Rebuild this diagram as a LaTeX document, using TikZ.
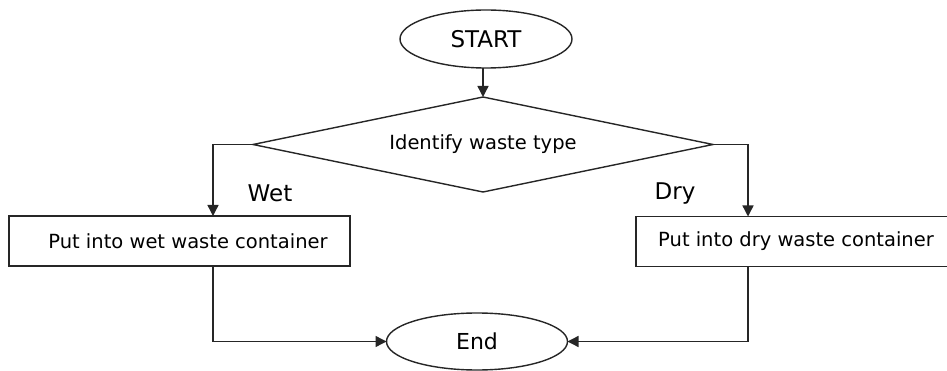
\documentclass[tikz,border=0pt]{standalone}
\usepackage{fontspec}
\setmainfont{DejaVu Sans}
\usetikzlibrary{shapes.geometric,arrows.meta}
\tikzset{
  ln/.style={draw=black!85, line width=1.4pt},
  arr/.style={ln, -{Triangle[length=11pt,width=11pt]}},
  term/.style={ellipse, ln, inner sep=0pt, outer sep=0pt},
  procbox/.style={rectangle, ln, line width=1.7pt, inner sep=0pt, outer sep=0pt, minimum height=50pt, font=\fontsize{19.5}{22}\selectfont},
  decision/.style={diamond, ln, inner sep=0pt, outer sep=0pt, aspect=4.8, font=\fontsize{19.5}{22}\selectfont},
  lbl/.style={font=\fontsize{23}{26}\selectfont, inner sep=0pt}
}
\begin{document}
\begin{tikzpicture}[x=1pt,y=-1pt]
\useasboundingbox (0,0) rectangle (947,371);
\node[term, minimum width=172pt, minimum height=58pt, font=\fontsize{23}{26}\selectfont] (start) at (486,39) {START};
\node[decision, minimum width=460pt, minimum height=95pt] (dec) at (483,144.5) {Identify waste type};
\node[procbox, minimum width=341pt] (wetbox) at (179.5,241) {\hspace{17pt}Put into wet waste container};
\node[procbox, minimum width=320pt] (drybox) at (796,241.5) {Put into dry waste container};
\node[term, minimum width=181pt, minimum height=57pt, font=\fontsize{22}{25}\selectfont] (endn) at (477,341.5) {End};
\coordinate (wl) at (213,144.5);
\coordinate (dr) at (748,144.5);
\node[lbl] (wet) at (270,193) {Wet};
\node[lbl] (dry) at (675,194) {Dry};
\draw[arr] (dec.north |- start.south) -- (dec.north);
\draw[ln] (dec.west) -- (wl);
\draw[arr] (wl) -- (wl |- wetbox.north);
\draw[ln] (dec.east) -- (dr);
\draw[arr] (dr) -- (dr |- drybox.north);
\draw[arr] (wl |- wetbox.south) |- (endn.west);
\draw[arr] (dr |- drybox.south) |- (endn.east);
\end{tikzpicture}
\end{document}
